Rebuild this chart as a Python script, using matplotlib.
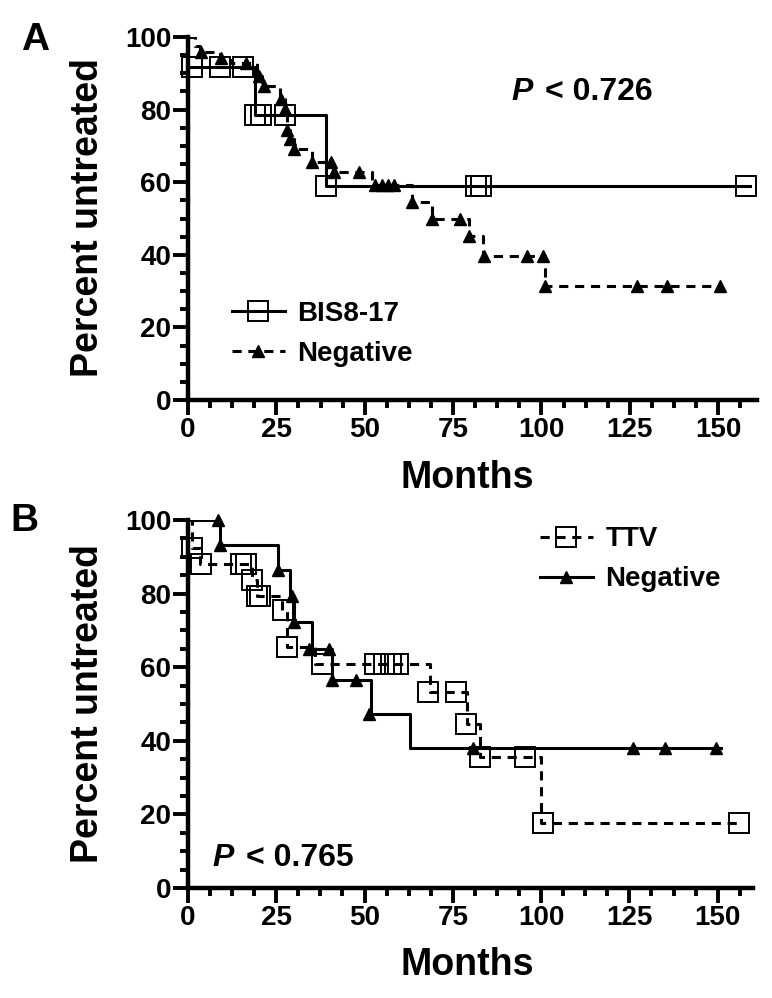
import matplotlib
matplotlib.use("Agg")
import matplotlib.pyplot as plt
from matplotlib.lines import Line2D
from matplotlib.ticker import MultipleLocator

plt.rcParams["font.family"] = ["Liberation Sans", "DejaVu Sans"]
plt.rcParams["font.weight"] = "bold"

MONTH_TICKS = [0, 25, 50, 75, 100, 125, 150]
PCT_TICKS = [0, 20, 40, 60, 80, 100]

# Panel A: BIS8-17 (solid, open squares)
a_bis_t = [0, 19, 39, 159]
a_bis_v = [91.7, 78.6, 58.9, 58.9]
a_bis_mark_t = [1, 9, 15.7, 19, 20.7, 27.5, 39, 81.5, 83, 158]
a_bis_mark_v = [91.7, 91.7, 91.7, 78.6, 78.6, 78.6, 58.9, 58.9, 58.9, 58.9]

# Panel A: Negative (dashed, triangles)
a_neg_t = [0, 2, 3.5, 9, 12, 19.4, 21, 26, 27.5, 28, 29, 30, 35, 41, 52, 63.5, 69, 79.5, 83.5, 101, 151]
a_neg_v = [100, 97.6, 95.8, 94.3, 92.8, 89.3, 86.5, 83, 80.2, 74.4, 72, 69.2, 65.6, 62.9, 59.2, 54.5, 49.9, 45.2, 39.7, 31.4, 31.4]
a_neg_mark_t = [3.7, 9.4, 16.5, 20, 21.4, 26.4, 27.5, 28, 29, 30, 35, 40.5, 41.2, 48.4, 53, 55, 56.5, 58.4,
                63.5, 69, 77, 79.5, 83.8, 96, 100.5, 101, 127, 135.5, 150.5]
a_neg_mark_v = [95.8, 94.3, 92.8, 89.3, 86.5, 83, 80.2, 74.4, 72, 69.2, 65.6, 65.6, 62.9, 62.9, 59.2, 59.2, 59.2, 59.2,
                54.5, 49.9, 49.9, 45.2, 39.7, 39.7, 39.7, 31.4, 31.4, 31.4, 31.4]

# Panel B: TTV (dashed, open squares)
b_ttv_t = [0, 1, 3.5, 18, 19.4, 26.5, 28, 36, 68.4, 79, 82.8, 100, 156]
b_ttv_v = [100, 92.3, 88, 83.7, 79.3, 75.5, 65.6, 61, 53.3, 44.5, 35.5, 17.7, 17.7]
b_ttv_mark_t = [1, 3.8, 15, 16.5, 18.2, 19.4, 20.4, 27, 28, 38, 53, 55.5, 57.5, 59.5, 68, 76, 78.8, 82.8, 95.4, 100.5, 156]
b_ttv_mark_v = [92.3, 88, 88, 88, 83.7, 79.3, 79.3, 75.5, 65.6, 61, 61, 61, 61, 61, 53.3, 53.3, 44.5, 35.5, 35.5, 17.7, 17.7]

# Panel B: Negative (solid, triangles)
b_neg_t = [0, 9, 25.6, 29, 30, 35, 40.8, 51.8, 63, 151]
b_neg_v = [100, 93.3, 86.3, 79.3, 72.2, 64.9, 56.4, 47.2, 38, 38]
b_neg_mark_t = [8.5, 9, 25.6, 29.4, 30, 34.4, 40, 40.7, 47.5, 51.3, 80.7, 126, 135, 149.5]
b_neg_mark_v = [100, 93.3, 86.3, 79.3, 72.2, 64.9, 65, 56.4, 56.4, 47.2, 38, 38, 38, 38]

DASH = (0, (3, 2.2))
LW = 2.2
SQ = dict(marker="s", ms=14, mfc="none", mec="black", mew=1.4)
TRI = dict(marker="^", ms=8, mfc="black", mec="black")

W, H = 772, 998
fig = plt.figure(figsize=(W / 100, H / 100), dpi=100)


def style_axes(ax, xmax):
    ax.set_xlim(0, xmax)
    ax.set_ylim(0, 100)
    ax.set_xticks(MONTH_TICKS)
    ax.set_yticks(PCT_TICKS)
    ax.xaxis.set_minor_locator(MultipleLocator(6.25))
    ax.yaxis.set_minor_locator(MultipleLocator(5))
    for side in ("top", "right"):
        ax.spines[side].set_visible(False)
    for side in ("left", "bottom"):
        ax.spines[side].set_linewidth(3.2)
    ax.tick_params(which="major", length=11, width=2.8, labelsize=20, pad=1)
    ax.tick_params(which="minor", length=6, width=2.8)


def draw_km(ax, t, v, mt, mv, ls, mk):
    ax.step(t, v, where="post", color="black", lw=LW, linestyle=ls, zorder=2)
    ax.plot(mt, mv, linestyle="none", color="black", clip_on=False, zorder=3, **mk)


def p_label(ax, x, y, value):
    ax.text(x, y, "P", transform=ax.transAxes, fontsize=23, style="italic",
            weight="bold", ha="left", va="center")
    ax.text(x + 0.058, y, "< " + value, transform=ax.transAxes, fontsize=23,
            weight="bold", ha="left", va="center")


# ---- Panel A
axA = fig.add_axes([188 / W, 1 - 400 / H, 569 / W, 363 / H])
style_axes(axA, 161)
draw_km(axA, a_bis_t, a_bis_v, a_bis_mark_t, a_bis_mark_v, "-", SQ)
draw_km(axA, a_neg_t, a_neg_v, a_neg_mark_t, a_neg_mark_v, DASH, TRI)
handles = [
    Line2D([], [], color="black", lw=LW, linestyle="-", **SQ),
    Line2D([], [], color="black", lw=LW, linestyle=DASH, **TRI),
]
axA.legend(handles, ["BIS8-17", "Negative"], loc="center left", bbox_to_anchor=(0.077, 0.182),
           frameon=False, prop={"size": 20, "weight": "bold"}, handlelength=1.9,
           handletextpad=0.45, labelspacing=0.5, borderpad=0, borderaxespad=0)
p_label(axA, 0.569, 0.848, "0.726")

# ---- Panel B
axB = fig.add_axes([188 / W, 1 - 888 / H, 565 / W, 368 / H])
style_axes(axB, 160)
draw_km(axB, b_ttv_t, b_ttv_v, b_ttv_mark_t, b_ttv_mark_v, DASH, SQ)
draw_km(axB, b_neg_t, b_neg_v, b_neg_mark_t, b_neg_mark_v, "-", TRI)
handles = [
    Line2D([], [], color="black", lw=LW, linestyle=DASH, **SQ),
    Line2D([], [], color="black", lw=LW, linestyle="-", **TRI),
]
axB.legend(handles, ["TTV", "Negative"], loc="center left", bbox_to_anchor=(0.623, 0.893),
           frameon=False, prop={"size": 20, "weight": "bold"}, handlelength=1.9,
           handletextpad=0.45, labelspacing=0.5, borderpad=0, borderaxespad=0)
p_label(axB, 0.044, 0.0815, "0.765")

# ---- shared labels
for ycen, xl_y in ((218, 478), (704, 965)):
    fig.text(88 / W, 1 - ycen / H, "Percent untreated", rotation=90, fontsize=27,
             weight="bold", ha="center", va="center")
    fig.text(467 / W, 1 - xl_y / H, "Months", fontsize=27, weight="bold",
             ha="center", va="center")
fig.text(35 / W, 1 - 40 / H, "A", fontsize=28, weight="bold", ha="center", va="center")
fig.text(24 / W, 1 - 521 / H, "B", fontsize=28, weight="bold", ha="center", va="center")

fig.savefig("out.png", dpi=100)
